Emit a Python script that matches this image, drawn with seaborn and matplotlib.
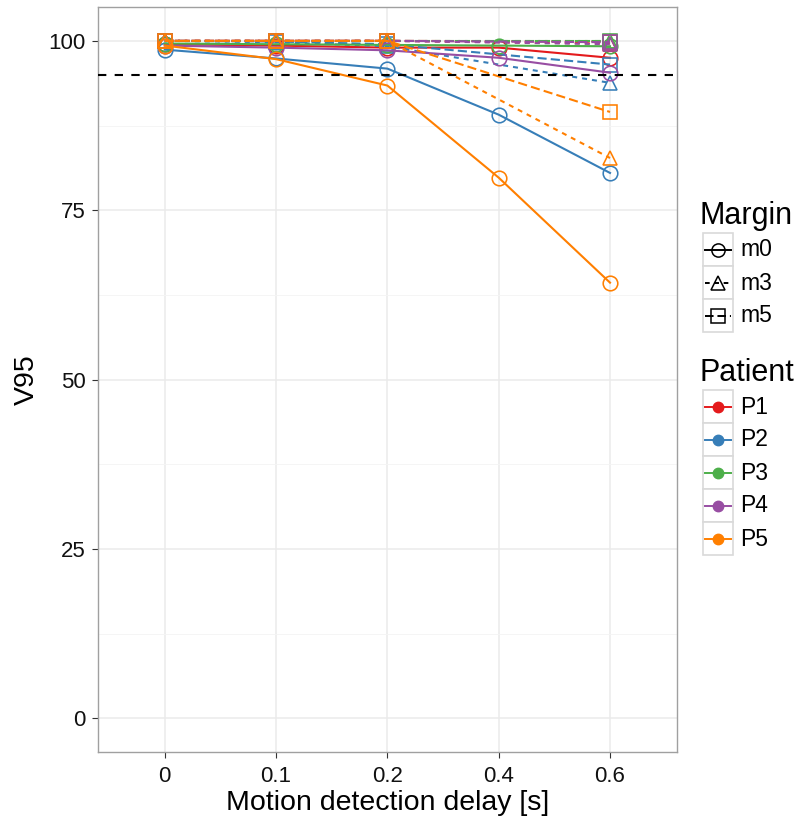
import numpy as np
import pandas as pd
import matplotlib
matplotlib.use("Agg")
import matplotlib.pyplot as plt
import seaborn as sns
from matplotlib.lines import Line2D
from matplotlib.patches import Rectangle

# Categories
delays = ["0", "0.1", "0.2", "0.4", "0.6"]
patients = ["P1", "P2", "P3", "P4", "P5"]
margins = ["m0", "m3", "m5"]
patient_colors = ["#E41A1C", "#377EB8", "#4DAF4A", "#984EA3", "#FF7F00"]

# V95 values per patient (rows P1..P5), one table per margin; None = no run at that delay
v95_m0 = [
    [99.5, 99.3, 99.0, 99.0, 97.5],
    [98.7, 97.4, 95.9, 89.1, 80.5],
    [99.6, 99.5, 99.4, 99.3, 99.2],
    [99.3, 99.0, 98.6, 97.5, 95.3],
    [99.3, 97.3, 93.4, 79.8, 64.3],
]
v95_m3 = [
    [100.0, 100.0, 100.0, None, 99.6],
    [100.0, 99.8, 99.2, None, 93.8],
    [100.0, 100.0, 100.0, None, 100.0],
    [100.0, 100.0, 100.0, None, 99.5],
    [100.0, 100.0, 100.0, None, 82.7],
]
v95_m5 = [
    [100.0, 100.0, 100.0, None, 99.9],
    [100.0, 99.9, 99.5, None, 96.5],
    [100.0, 100.0, 100.0, None, 100.0],
    [100.0, 100.0, 100.0, None, 99.8],
    [100.0, 100.0, 100.0, None, 89.5],
]
threshold = 95

rows = []
for margin, table in zip(margins, [v95_m0, v95_m3, v95_m5]):
    for patient, values in zip(patients, table):
        for i, v in enumerate(values):
            if v is not None:
                rows.append({"pos": i, "Patient": patient, "Margin": margin, "V95": v})
df = pd.DataFrame(rows)

plt.rcParams["font.family"] = ["Liberation Sans", "DejaVu Sans"]

fig = plt.figure(figsize=(8, 8.21), dpi=100)
ax = fig.add_axes([0.1225, 0.084, 0.7235, 0.9075])

marker_map = {"m0": "o", "m3": "^", "m5": "s"}
dash_map = {"m0": "", "m3": (2.4, 2.4), "m5": (4.4, 2.0)}

sns.lineplot(
    data=df, x="pos", y="V95",
    hue="Patient", hue_order=patients, palette=patient_colors,
    style="Margin", style_order=margins,
    markers=marker_map, dashes=dash_map,
    estimator=None, errorbar=None, sort=True,
    linewidth=1.5, markersize=10.5, legend=False, ax=ax,
)
for line in ax.lines:
    line.set_markerfacecolor("none")
    line.set_markeredgecolor(line.get_color())
    line.set_markeredgewidth(1.15)

ax.axhline(threshold, color="black", linestyle=(0, (4, 4)), linewidth=1.5, zorder=3)

# ggplot-like theme
ax.set_xlim(-0.6, 4.6)
ax.set_ylim(-5, 105)
ax.set_xticks(range(len(delays)))
ax.set_xticklabels(delays)
ax.set_yticks([0, 25, 50, 75, 100])
ax.set_yticks([12.5, 37.5, 62.5, 87.5], minor=True)
ax.grid(which="major", color="#EBEBEB", linewidth=1.1)
ax.grid(which="minor", axis="y", color="#F4F4F4", linewidth=0.6)
ax.set_axisbelow(True)
for sp in ax.spines.values():
    sp.set_color("#A0A0A0")
    sp.set_linewidth(1.0)
ax.tick_params(which="major", length=4.3, width=0.8, color="#333333",
               labelsize=16, labelcolor="#111111")
ax.tick_params(axis="x", pad=6)
ax.tick_params(axis="y", pad=4.5)
ax.tick_params(which="minor", length=0)
ax.set_xlabel("Motion detection delay [s]", fontsize=20.5, labelpad=2)
ax.set_ylabel("V95", fontsize=20.5, labelpad=6)

# Legends drawn in pixel coordinates
leg = fig.add_axes([0, 0, 1, 1], facecolor="none")
leg.set_xlim(0, 800)
leg.set_ylim(821, 0)
leg.axis("off")

box_x, box_w, box_h = 703, 30, 33

leg.text(700, 216, "Margin", fontsize=22, va="center", ha="left")
for k, m in enumerate(margins):
    cy = 250 + k * 33
    leg.add_patch(Rectangle((box_x, cy - box_h / 2), box_w, box_h,
                            facecolor="white", edgecolor="#D9D9D9", linewidth=1.2))
    ls = "-" if m == "m0" else (0, dash_map[m])
    leg.add_line(Line2D([box_x + 2, box_x + box_w - 2], [cy, cy], color="black",
                        linewidth=1.4, linestyle=ls))
    leg.add_line(Line2D([box_x + box_w / 2], [cy], color="black", marker=marker_map[m],
                        markersize=9.5, markerfacecolor="none", markeredgewidth=1.1))
    leg.text(740, cy, m, fontsize=16.5, va="center", ha="left")

leg.text(700, 373, "Patient", fontsize=22, va="center", ha="left")
for k, (p, c) in enumerate(zip(patients, patient_colors)):
    cy = 407 + k * 33
    leg.add_patch(Rectangle((box_x, cy - box_h / 2), box_w, box_h,
                            facecolor="white", edgecolor="#D9D9D9", linewidth=1.2))
    leg.add_line(Line2D([box_x + 2, box_x + box_w - 2], [cy, cy], color=c, linewidth=1.4))
    leg.add_line(Line2D([box_x + box_w / 2], [cy], color=c, marker="o", markersize=7.5))
    leg.text(740, cy, p, fontsize=16.5, va="center", ha="left")

fig.savefig("out.png", dpi=100)
